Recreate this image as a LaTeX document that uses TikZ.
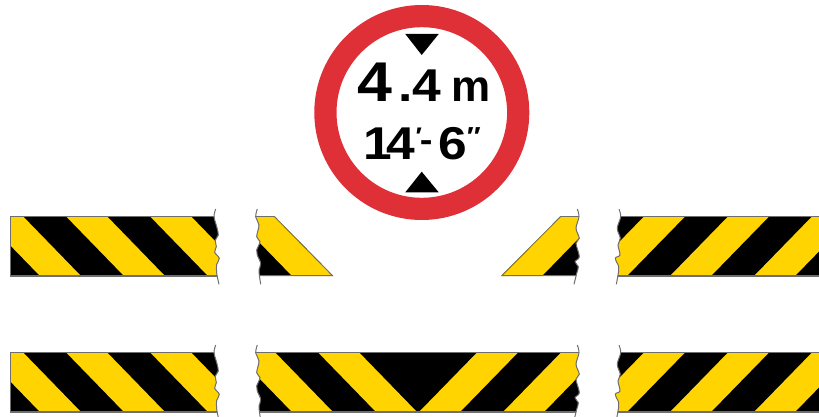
\documentclass[tikz,border=0pt]{standalone}
\usepackage{fontspec}
\setmainfont{Liberation Sans}
\newfontfamily\signfont{Liberation Sans Bold}[FakeStretch=1.12]
\newfontfamily\signplain{Liberation Sans Bold}
\definecolor{signred}{HTML}{DF3038}
\definecolor{signyellow}{HTML}{FFD400}
\definecolor{edgegrey}{HTML}{6E6E6E}
\newcommand{\waveA}{(215.7,209) (214,216.7) (216.7,226.7) (218.3,235) (215.3,240) (216.3,246.7) (214.7,252.3) (219.3,258.3) (216.7,264.3) (216.7,273.3) (219,284.3)}
\newcommand{\waveB}{(257.3,209) (255.7,216.7) (259,225) (256.7,236.7) (260,241.7) (256.7,250) (257.3,255) (260.7,263.3) (259,270) (259.3,275) (260.7,284.3)}
\newcommand{\waveC}{(577.3,209) (579,216.7) (576,228.3) (579.3,238.3) (576,243.3) (579.3,256.7) (575,261.7) (578.3,266.7) (576.7,273.3) (574,284.3)}
\newcommand{\waveD}{(619,209) (620.7,216.7) (617.3,228.3) (620.3,238.3) (618,245) (620,255) (615.3,258.3) (618.7,266.7) (618,275) (616.3,284.3)}
\newcommand{\bandL}[1]{\fill[signyellow] ({#1-58.3},216) -- ({#1-17.3},216) -- ({#1+41},276) -- (#1,276) -- cycle;}
\newcommand{\bandR}[1]{\fill[signyellow] (#1,276) -- ({#1+41},276) -- ({#1+99.5},216) -- ({#1+58.5},216) -- cycle;}
\tikzset{
  waveline/.style={draw=edgegrey,line width=1pt,smooth,tension=0.55},
  triangle/.style={fill=black},
  signtext/.style={inner sep=0pt,text=black}
}
\begin{document}
\begin{tikzpicture}[x=1pt,y=-1pt]
\useasboundingbox (0,0) rectangle (819,417);
\foreach \dy in {0,136}{
\begin{scope}[shift={(0,\dy)}]
  \begin{scope}
    \clip (0,200) -- plot[smooth,tension=0.55] coordinates {\waveA} -- (0,290) -- cycle;
    \clip (10,216) rectangle (240,276);
    \fill[black] (0,216) rectangle (240,276);
    \bandL{40}\bandL{124}\bandL{208}
    \draw[edgegrey,line width=1.6pt] (10,216) -- (240,216) (10,276) -- (240,276) (10,216) -- (10,276);
  \end{scope}
  \draw[waveline] plot coordinates {\waveA};
  \begin{scope}
    \clip (830,200) -- (630,200) -- plot[smooth,tension=0.55] coordinates {\waveD} -- (630,290) -- (830,290) -- cycle;
    \clip (600,216) rectangle (819,276);
    \fill[black] (600,216) rectangle (819,276);
    \bandR{586}\bandR{670}\bandR{754}\bandR{838}
    \draw[edgegrey,line width=1.6pt] (600,216) -- (819,216) (600,276) -- (819,276);
  \end{scope}
  \draw[waveline] plot coordinates {\waveD};
\end{scope}}
\begin{scope}
  \clip (240,200) -- plot[smooth,tension=0.55] coordinates {\waveB} -- (240,290) -- (340,290) -- (340,200) -- cycle;
  \clip (240,216) -- (274.3,216) -- (333.3,276) -- (240,276) -- cycle;
  \fill[black] (240,216) rectangle (340,276);
  \bandL{292}
  \draw[edgegrey,line width=1.6pt] (240,216) -- (274.3,216) -- (333.3,276) -- (240,276);
\end{scope}
\draw[waveline] plot coordinates {\waveB};
\begin{scope}
  \clip (600,200) -- plot[smooth,tension=0.55] coordinates {\waveC} -- (600,290) -- (490,290) -- (490,200) -- cycle;
  \clip (600,216) -- (560.7,216) -- (501,276) -- (600,276) -- cycle;
  \fill[black] (490,216) rectangle (600,276);
  \bandR{501}
  \draw[edgegrey,line width=1.6pt] (600,216) -- (560.7,216) -- (501,276) -- (600,276);
\end{scope}
\draw[waveline] plot coordinates {\waveC};
\begin{scope}[shift={(0,136)}]
  \begin{scope}
    \clip (240,200) -- plot[smooth,tension=0.55] coordinates {\waveB} -- (240,290) -- (600,290) -- plot[smooth,tension=0.55] coordinates {(574,284.3) (576.7,273.3) (578.3,266.7) (575,261.7) (579.3,256.7) (576,243.3) (579.3,238.3) (576,228.3) (579,216.7) (577.3,209)} -- (600,200) -- cycle;
    \clip (240,216) rectangle (600,276);
    \fill[black] (240,216) rectangle (600,276);
    \bandL{292}\bandL{376}
    \bandR{419}\bandR{503}\bandR{586}
    \draw[edgegrey,line width=1.6pt] (240,216) -- (600,216) (240,276) -- (600,276);
  \end{scope}
  \draw[waveline] plot coordinates {\waveB};
  \draw[waveline] plot coordinates {\waveC};
\end{scope}
% sign
\draw[signred,line width=22.2pt,fill=white] (421.8,112.5) circle (96.4);
\fill[triangle] (405.3,34) -- (438.7,34) -- (421.7,55) -- cycle;
\fill[triangle] (405.3,192.3) -- (438.7,192.3) -- (421.7,171.7) -- cycle;
\node[signtext,anchor=base west] (metric) at (357.5,101.7) {\signfont\fontsize{56}{56}\selectfont 4\kern5.6pt\fontsize{46}{46}\selectfont.\kern-0.3pt 4\kern10.4pt\signplain\fontsize{44}{44}\selectfont m};
\node[signtext,anchor=base west] (imperial) at (363,159.3) {\signfont\fontsize{46}{46}\selectfont 1\kern-5pt 4\raisebox{15pt}{\fontsize{24}{24}\selectfont ′}\kern-2pt\raisebox{7.5pt}{\fontsize{34}{34}\selectfont -}\kern5.7pt 6\raisebox{14pt}{\fontsize{26}{26}\selectfont ″}};
\end{tikzpicture}
\end{document}
